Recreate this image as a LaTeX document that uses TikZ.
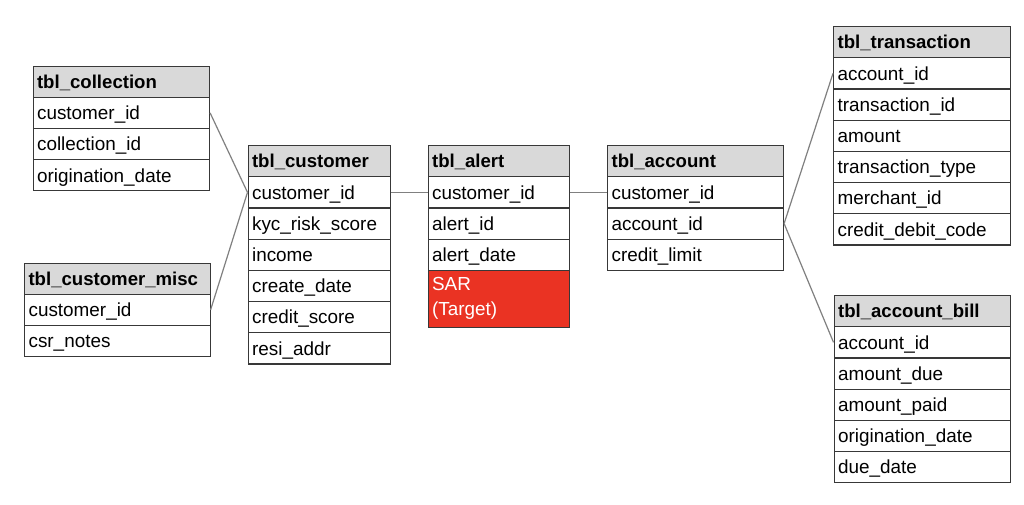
\documentclass[tikz,border=0pt]{standalone}
\usepackage{fontspec}
\setmainfont{Liberation Sans}
\newcommand\tabfont{\fontsize{18.9}{25}\selectfont}
\newcommand\hdrfont{\fontsize{18.6}{25}\selectfont\bfseries}
\definecolor{bordercol}{HTML}{383838}
\definecolor{hdrgray}{HTML}{D9D9D9}
\definecolor{linkgray}{HTML}{808080}
\definecolor{sarred}{HTML}{EA3323}
\tikzset{
  cell/.style={draw=bordercol, line width=1.1pt, anchor=north west, inner xsep=4pt, inner ysep=0pt,
    minimum height=31.2pt, align=left, font=\tabfont, text=black},
  onel/.style={text height=13.5pt, text depth=0pt},
  hdr/.style={cell, onel, fill=hdrgray, font=\hdrfont},
  rowbox/.style={cell, onel, fill=white},
  sarbox/.style={cell, fill=sarred, text=white, minimum height=57pt},
  link/.style={draw=linkgray, line width=1.2pt}
}
\newcommand\dbtable[6]{%
  \pgfmathsetlengthmacro\tw{#4pt-8pt}%
  \node[hdr, text width=\tw] (#1-0) at (#2,#3) {#5};
  \foreach \r [count=\i] in {#6} {
    \node[rowbox, text width=\tw] (#1-\i) at (#2,{#3+31.2*\i}) {\r};
  }
}
\begin{document}
\begin{tikzpicture}[x=1pt,y=-1pt]
\useasboundingbox[fill=white] (0,0) rectangle (1024,504);
\dbtable{col}{32.5}{65.5}{176.5}{tbl\_collection}{customer\_id,collection\_id,origination\_date}
\dbtable{misc}{24}{262.5}{185.5}{tbl\_customer\_misc}{customer\_id,csr\_notes}
\dbtable{cus}{247.5}{145}{142}{tbl\_customer}{customer\_id,kyc\_risk\_score,income,create\_date,credit\_score,resi\_addr}
\dbtable{al}{427.5}{145}{141.5}{tbl\_alert}{customer\_id,alert\_id,alert\_date}
\pgfmathsetlengthmacro\tw{141.5pt-8pt}
\node[sarbox, text width=\tw] (al-4) at (427.5,{145+31.2*4}) {SAR\\(Target)};
\dbtable{acc}{607}{145}{176}{tbl\_account}{customer\_id,account\_id,credit\_limit}
\dbtable{tr}{833}{26}{176.5}{tbl\_transaction}{account\_id,transaction\_id,amount,transaction\_type,merchant\_id,credit\_debit\_code}
\dbtable{bill}{833.5}{295}{176}{tbl\_account\_bill}{account\_id,amount\_due,amount\_paid,origination\_date,due\_date}
\draw[link] (col-1.east) -- (cus-1.west);
\draw[link] (misc-1.east) -- (cus-1.west);
\draw[link] (cus-1.east) -- (al-1.west);
\draw[link] (al-1.east) -- (acc-1.west);
\draw[link] (acc-2.east) -- (tr-1.west);
\draw[link] (acc-2.east) -- (bill-1.west);
\end{tikzpicture}
\end{document}
